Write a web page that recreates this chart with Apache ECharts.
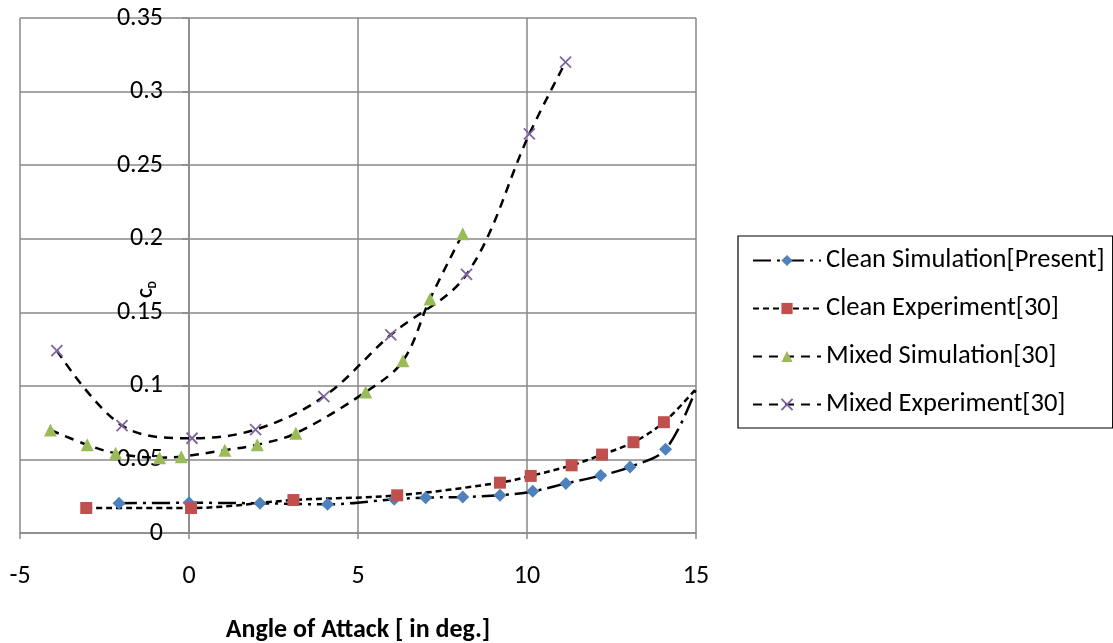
<!DOCTYPE html>
<html>
<head>
<meta charset="utf-8">
<script src="https://cdn.jsdelivr.net/npm/echarts@6/dist/echarts.min.js"></script>
<style>
html,body{margin:0;padding:0;background:#fff;}
#chart{width:1113px;height:643px;}
</style>
</head>
<body>
<div id="chart"></div>
<script>
// ---- data ----
const seriesNames = ['Clean Simulation[Present]', 'Clean Experiment[30]', 'Mixed Simulation[30]', 'Mixed Experiment[30]'];

const cleanSimX = [-2.07, 0.0, 2.1, 4.1, 6.07, 7.0, 8.1, 9.2, 10.17, 11.15, 12.18, 13.05, 14.1, 15];
const cleanSimY = [0.0202, 0.0205, 0.0202, 0.0195, 0.0229, 0.024, 0.0245, 0.0256, 0.0283, 0.0336, 0.039, 0.0449, 0.0569, 0.098];

const cleanExpX = [-3.04, 0.06, 3.09, 6.16, 9.2, 10.11, 11.32, 12.22, 13.15, 14.05, 15];
const cleanExpY = [0.017, 0.017, 0.0224, 0.0256, 0.0342, 0.0388, 0.046, 0.0533, 0.0617, 0.0753, 0.098];

const mixedSimX = [-4.1, -3.01, -2.17, -0.87, -0.23, 1.06, 2.02, 3.16, 5.23, 6.33, 7.13, 8.1];
const mixedSimY = [0.070, 0.0599, 0.0542, 0.0512, 0.0519, 0.0563, 0.060, 0.0678, 0.0959, 0.117, 0.159, 0.2034];

const mixedExpX = [-3.91, -1.98, 0.09, 1.97, 3.99, 5.97, 8.21, 10.07, 11.14];
const mixedExpY = [0.124, 0.073, 0.0644, 0.0703, 0.0927, 0.1347, 0.1757, 0.2712, 0.320];

const xTickLabels = ['-5', '0', '5', '10', '15'];
const yTickLabels = ['0', '0.05', '0.1', '0.15', '0.2', '0.25', '0.3', '0.35'];

const xAxisTitle = 'Angle of Attack [ in deg.]';

// ---- build ----
const FONT = 'Carlito, Lato, sans-serif';
function pairs(xs, ys, lastNoSymbol) {
  return xs.map((x, i) => {
    if (lastNoSymbol && i === xs.length - 1) return { value: [x, ys[i]], symbol: 'none' };
    return [x, ys[i]];
  });
}
const xMin = Number(xTickLabels[0]), xMax = Number(xTickLabels[xTickLabels.length - 1]);
const xInt = Number(xTickLabels[1]) - Number(xTickLabels[0]);
const yMin = Number(yTickLabels[0]), yMax = Number(yTickLabels[yTickLabels.length - 1]);
const yInt = Number(yTickLabels[1]) - Number(yTickLabels[0]);

const W = 1113;
const GRID = { left: 20, top: 18, right: 417, bottom: 110 };
const plotWidth = W - GRID.left - GRID.right;
// the vertical axis crosses the horizontal axis at x = 0
const yAxisOffset = -((0 - xMin) / (xMax - xMin)) * plotWidth;

const gridColor = '#898989';
const chart = echarts.init(document.getElementById('chart'), null, { renderer: 'canvas' });
const XPATH = 'path://M0,0L10,10M10,0L0,10';

chart.setOption({
  animation: false,
  textStyle: { fontFamily: FONT },
  grid: Object.assign({ containLabel: false, outerBoundsMode: 'none' }, GRID),
  xAxis: {
    type: 'value', min: xMin, max: xMax, interval: xInt,
    axisLine: { onZero: false, lineStyle: { color: gridColor, width: 1.5 } },
    axisTick: { show: true, length: 6, lineStyle: { color: gridColor, width: 1.5 } },
    axisLabel: { margin: 30, fontSize: 26, color: '#000', fontFamily: FONT,
      formatter: (v) => xTickLabels[Math.round((v - xMin) / xInt)] },
    splitLine: { show: true, lineStyle: { color: gridColor, width: 1.5 } },
    name: xAxisTitle, nameLocation: 'middle', nameGap: 84, nameMoveOverlap: false,
    nameTextStyle: { fontSize: 26, fontWeight: 'bold', color: '#000', fontFamily: FONT }
  },
  yAxis: {
    type: 'value', min: yMin, max: yMax, interval: yInt,
    position: 'left', offset: yAxisOffset,
    axisLine: { show: true, onZero: false, lineStyle: { color: gridColor, width: 1.5 } },
    axisTick: { show: true, length: 7, lineStyle: { color: gridColor, width: 1.5 } },
    axisLabel: { margin: 26, fontSize: 26, color: '#000', fontFamily: FONT,
      formatter: (v) => yTickLabels[Math.round((v - yMin) / yInt)] },
    splitLine: { show: true, lineStyle: { color: gridColor, width: 1.5 } },
    name: '{c|C}{d|D}', nameLocation: 'middle', nameGap: 30, nameMoveOverlap: false,
    nameTextStyle: {
      color: '#000', fontFamily: FONT, padding: [0, 28, 0, 0],
      rich: {
        c: { fontSize: 18, fontWeight: 'bold', color: '#000', fontFamily: FONT, lineHeight: 24, verticalAlign: 'middle' },
        d: { fontSize: 11, fontWeight: 'bold', color: '#000', fontFamily: FONT, lineHeight: 24, verticalAlign: 'bottom' }
      }
    }
  },
  legend: {
    orient: 'vertical', left: 738, top: 236,
    borderColor: '#000', borderWidth: 1.2,
    padding: [11, 8, 10, 14], itemGap: 21,
    itemWidth: 68, itemHeight: 14,
    textStyle: { fontSize: 26.5, lineHeight: 26, color: '#000', fontFamily: FONT },
    data: seriesNames
  },
  series: [
    {
      name: seriesNames[0], type: 'line', data: pairs(cleanSimX, cleanSimY, true),
      smooth: 0.35, symbol: 'diamond', symbolSize: 13,
      itemStyle: { color: '#4F81BD' },
      lineStyle: { color: '#000', width: 2.5, type: [18, 6, 3, 6] }
    },
    {
      name: seriesNames[1], type: 'line', data: pairs(cleanExpX, cleanExpY, true),
      smooth: 0.35, symbol: 'rect', symbolSize: 12,
      itemStyle: { color: '#C0504D' },
      lineStyle: { color: '#000', width: 2.5, type: [6, 4] }
    },
    {
      name: seriesNames[2], type: 'line', data: pairs(mixedSimX, mixedSimY, false),
      smooth: 0.35, symbol: 'triangle', symbolSize: 13,
      itemStyle: { color: '#9BBB59' },
      lineStyle: { color: '#000', width: 2.5, type: [9, 7] }
    },
    {
      name: seriesNames[3], type: 'line', data: pairs(mixedExpX, mixedExpY, false),
      smooth: 0.35, symbol: XPATH, symbolSize: 11, symbolKeepAspect: true,
      itemStyle: { color: '#8064A2', borderColor: '#8064A2', borderWidth: 1.8 },
      lineStyle: { color: '#000', width: 2.5, type: [9, 7] }
    }
  ]
});
</script>
</body>
</html>
